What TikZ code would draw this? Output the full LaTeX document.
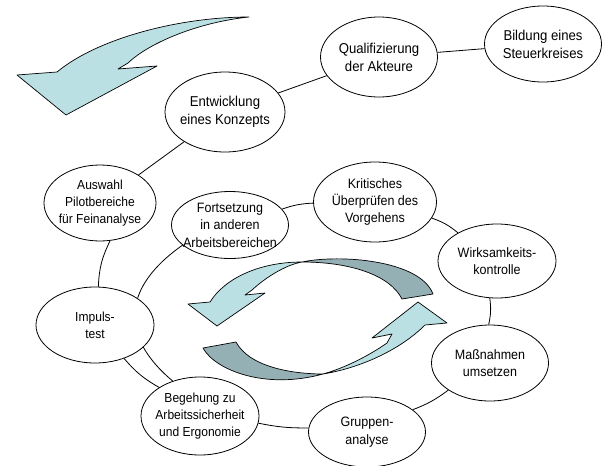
\documentclass[tikz,border=0pt]{standalone}
\usepackage{fontspec}
\setmainfont{Liberation Sans}[FakeStretch=0.92]
\usetikzlibrary{shapes.geometric,backgrounds}
\definecolor{arrowlight}{RGB}{187,224,228}
\definecolor{arrowdark}{RGB}{148,176,180}
\begin{document}
\begin{tikzpicture}[x=1pt,y=1pt,
        stage/.style={ellipse, draw, fill=white, line width=0.8pt,
            inner xsep=-14pt, inner ysep=-3pt, align=center,
            font=\fontsize{13.6}{17.4}\selectfont,
            minimum width=117pt, minimum height=76pt},
        large/.style={font=\fontsize{14.3}{18.2}\selectfont},
        small/.style={font=\fontsize{13.1}{17.2}\selectfont},
        link/.style={line width=0.8pt},
        ribbon/.style={draw, line width=0.7pt, line join=round}]
    \useasboundingbox (0,0) rectangle (608,-466);
    % outer loop
    \node[stage, large, minimum height=80pt] (qual) at (379,-57) {Qualifizierung\\der Akteure};
    \node[stage, large] (bild) at (543,-44) {Bildung eines\\Steuerkreises};
    \node[stage, large, minimum width=120pt, minimum height=80pt] (entw) at (225,-112) {Entwicklung\\eines Konzepts};
    \node[stage, small, minimum width=112pt] (ausw) at (100,-203) {Auswahl\\Pilotbereiche\\f\"ur Feinanalyse};
    \node[stage, small, minimum width=118pt] (impuls) at (95,-325) {Impuls-\\test};
    \node[stage, small, minimum width=118pt, minimum height=78pt] (beg) at (200,-416) {Begehung zu\\Arbeitssicherheit\\und Ergonomie};
    % inner loop
    \node[stage, minimum height=67pt] (forts) at (230,-225) {Fortsetzung\\in anderen\\Arbeitsbereichen};
    \node[stage, minimum width=123pt, minimum height=80pt] (krit) at (375,-202) {Kritisches\\\"Uberpr\"ufen des\\Vorgehens};
    \node[stage, minimum width=118pt, minimum height=74pt] (wirk) at (497,-261) {Wirksamkeits-\\kontrolle};
    \node[stage] (mass) at (490,-363) {Ma\ss nahmen\\umsetzen};
    \node[stage, minimum height=70pt] (grup) at (367,-432) {Gruppen-\\analyse};

    \begin{pgfonlayer}{background}
        \draw[link] (bild) -- (qual);
        \draw[link] (qual) -- (entw);
        \draw[link] (entw) -- (ausw);
        \draw[link] (ausw.285) to[bend right=12] (impuls.85);
        \draw[link] (impuls.311) to[bend right=10] (beg.145);
        \draw[link] (beg.353) to[bend right=6] (grup.176);
        \draw[link] (grup.26) to[bend right=8] (mass.213);
        \draw[link] (mass.92) to[bend right=10] (wirk.259);
        \draw[link] (wirk) to[bend right=10] (krit);
        \draw[link] (krit) to[bend right=8] (forts);
        \draw[link] (forts.203) to[out=215,in=140,looseness=1.35] (beg.128);
    \end{pgfonlayer}

    % big arrow top left
    \draw[ribbon, fill=arrowlight] (249,-17) .. controls (180,-17) and (98,-38) .. (57,-72)
        -- (17,-75) -- (66,-115) -- (157,-66) -- (118,-69) -- (128,-63)
        .. controls (150,-42) and (200,-22) .. cycle;

    % turning arrows in the middle
    \draw[ribbon, fill=arrowdark] (302,-262) .. controls (340,-254) and (420,-260) .. (433,-294)
        -- (402,-299) .. controls (390,-275) and (350,-262) .. cycle;
    \draw[ribbon, fill=arrowlight] (302,-262) .. controls (260,-262) and (225,-278) .. (210,-302)
        -- (188,-304) -- (217,-326) -- (265,-293) -- (245,-295) -- (252,-290)
        .. controls (265,-278) and (285,-265) .. cycle;
    \draw[ribbon, fill=arrowdark] (323,-374) .. controls (295,-374) and (250,-368) .. (236,-342)
        -- (203,-348) .. controls (215,-370) and (265,-390) .. cycle;
    \draw[ribbon, fill=arrowlight] (323,-374) .. controls (360,-368) and (400,-350) .. (425,-325)
        -- (447,-323) -- (418,-302) -- (372,-338) -- (392,-334) -- (387,-343)
        .. controls (370,-355) and (345,-368) .. cycle;
\end{tikzpicture}
\end{document}
